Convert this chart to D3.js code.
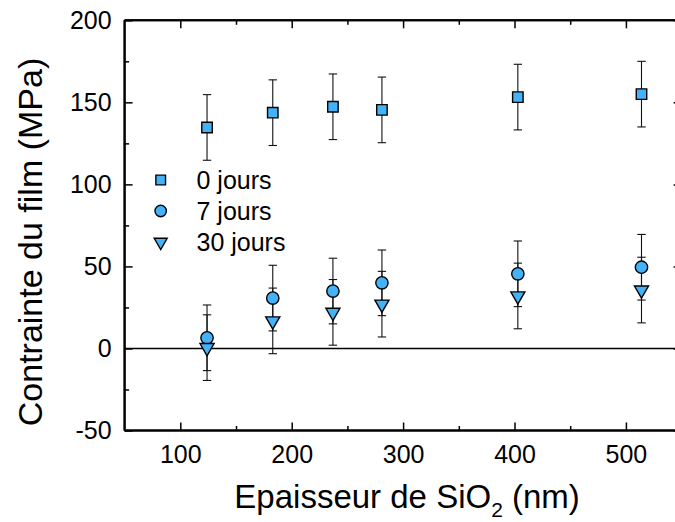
<!DOCTYPE html>
<html><head><meta charset="utf-8">
<script src="https://cdn.jsdelivr.net/npm/d3@7"></script>
<style>body{margin:0;background:#fff}svg{display:block}text{font-family:"Liberation Sans",Arial,sans-serif;fill:#000}</style>
</head><body><svg id="c" width="675" height="522"></svg>
<script>
const thickness = [124, 183, 237, 281, 403, 514];
const stress0 = [134.7, 143.7, 147.3, 145.4, 153.2, 155.0];
const stress7 = [6.5, 30.7, 35.0, 40.0, 45.5, 49.5];
const stress30 = [0.5, 16.8, 22.0, 27.0, 32.0, 35.6];
const err0 = [20, 20, 20, 20, 20, 20];
const err7 = [20, 20, 20, 20, 20, 20];
const err30 = [20, 20, 20, 20, 20, 20];
const seriesNames = ["0 jours", "7 jours", "30 jours"];
const xTicks = [100, 200, 300, 400, 500];
const xMinor = [150, 250, 350, 450, 550];
const yTicks = [-50, 0, 50, 100, 150, 200];
const yMinor = [-25, 25, 75, 125, 175];

const svg = d3.select("#c");
const L = 124.6, R = 681.6, T = 20.3, B = 430.5;
const x = d3.scaleLinear().domain([50, 550]).range([L, R]);
const y = d3.scaleLinear().domain([-50, 200]).range([B, T]);
const fill = "#45b1f6";
const fmt = d => String(d);

function styleAxis(g, horiz){
  g.select(".domain").attr("stroke","#000").attr("stroke-width",2)
    .attr("d", horiz ? `M${L},0H${R}` : `M0,${B}V${T}`);
  g.selectAll(".tick line").attr("stroke","#000").attr("stroke-width",1.5);
  g.selectAll(".tick text").style("font-size","25px").style("font-family","'Liberation Sans',Arial,sans-serif");
}
// bottom
const gb = svg.append("g").attr("transform",`translate(0,${B})`)
  .call(d3.axisBottom(x).tickValues(xTicks).tickSize(-8).tickPadding(15).tickFormat(fmt));
styleAxis(gb, true);
styleAxis(svg.append("g").attr("transform",`translate(0,${B})`)
  .call(d3.axisBottom(x).tickValues(xMinor).tickSize(-4.5).tickFormat("")), true);
// top
styleAxis(svg.append("g").attr("transform",`translate(0,${T})`)
  .call(d3.axisTop(x).tickValues(xTicks).tickSize(-8).tickFormat("")), true);
styleAxis(svg.append("g").attr("transform",`translate(0,${T})`)
  .call(d3.axisTop(x).tickValues(xMinor).tickSize(-4.5).tickFormat("")), true);
// left
styleAxis(svg.append("g").attr("transform",`translate(${L},0)`)
  .call(d3.axisLeft(y).tickValues(yTicks).tickSize(-8).tickPadding(13).tickFormat(fmt)), false);
styleAxis(svg.append("g").attr("transform",`translate(${L},0)`)
  .call(d3.axisLeft(y).tickValues(yMinor).tickSize(-4.5).tickFormat("")), false);
// right
styleAxis(svg.append("g").attr("transform",`translate(${R},0)`)
  .call(d3.axisRight(y).tickValues(yTicks).tickSize(-8).tickFormat("")), false);
styleAxis(svg.append("g").attr("transform",`translate(${R},0)`)
  .call(d3.axisRight(y).tickValues(yMinor).tickSize(-4.5).tickFormat("")), false);

// zero line
svg.append("line").attr("x1",L).attr("x2",R).attr("y1",y(0)).attr("y2",y(0))
  .attr("stroke","#000").attr("stroke-width",1.6);

const series = [
  {vals: stress0, errs: err0, sym: d3.symbolSquare, size: 110, rot: 0},
  {vals: stress7, errs: err7, sym: d3.symbolCircle, size: 120, rot: 0},
  {vals: stress30, errs: err30, sym: d3.symbolTriangle, size: 86, rot: 180}
];
const cap = 4.2;
const eg = svg.append("g");
series.forEach(s=>{
  thickness.forEach((t,i)=>{
    const cx = x(t), y1 = y(s.vals[i]+s.errs[i]), y2 = y(s.vals[i]-s.errs[i]);
    eg.append("line").attr("x1",cx).attr("x2",cx).attr("y1",y1).attr("y2",y2).attr("stroke","#111").attr("stroke-width",1.1);
    eg.append("line").attr("x1",cx-cap).attr("x2",cx+cap).attr("y1",y1).attr("y2",y1).attr("stroke","#111").attr("stroke-width",1.1);
    eg.append("line").attr("x1",cx-cap).attr("x2",cx+cap).attr("y1",y2).attr("y2",y2).attr("stroke","#111").attr("stroke-width",1.1);
  });
});
series.forEach(s=>{
  svg.append("g").selectAll("path").data(thickness).join("path")
    .attr("d", d3.symbol().type(s.sym).size(s.size))
    .attr("transform",(t,i)=>`translate(${x(t)},${y(s.vals[i])}) rotate(${s.rot})`)
    .attr("fill",fill).attr("stroke","#000").attr("stroke-width",1.4);
});

// legend
const leg = svg.append("g");
const legY = [180, 211, 242];
series.forEach((s,i)=>{
  leg.append("path").attr("d", d3.symbol().type(s.sym).size(s.size*0.85))
    .attr("transform",`translate(160.7,${legY[i]}) rotate(${s.rot})`)
    .attr("fill",fill).attr("stroke","#000").attr("stroke-width",1.4);
  leg.append("text").attr("x",196.5).attr("y",legY[i]+9).style("font-size","25px").text(seriesNames[i]);
});

// axis titles
const xt = svg.append("text").attr("x",(L+R)/2 + 4).attr("y",508).attr("text-anchor","middle").style("font-size","33px");
xt.append("tspan").text("Epaisseur de SiO");
xt.append("tspan").attr("dy",9).style("font-size","21px").text("2");
xt.append("tspan").attr("dy",-9).text(" (nm)");
svg.append("text").attr("transform",`translate(42,242) rotate(-90)`).attr("text-anchor","middle")
  .style("font-size","34px").text("Contrainte du film (MPa)");
</script></body></html>
